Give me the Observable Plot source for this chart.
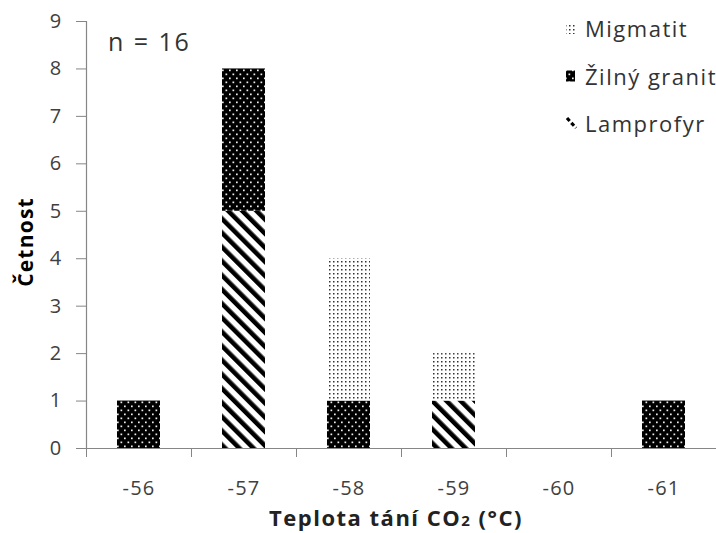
<!DOCTYPE html>
<html><head><meta charset="utf-8">
<script src="https://cdn.jsdelivr.net/npm/d3@7"></script>
<script src="https://cdn.jsdelivr.net/npm/@observablehq/plot@0.6"></script>
<style>
html,body{margin:0;padding:0;background:#fff;}
#chart{position:relative;width:716px;height:533px;overflow:hidden;}
#chart svg text{letter-spacing:1.2px;}
</style></head><body><div id="chart"></div>
<script>
// ---- data ----
const categories = ["-56","-57","-58","-59","-60","-61"];
const seriesNames = ["Lamprofyr","Žilný granit","Migmatit"];
const lamprofyr   = [0,5,0,1,0,0];
const zilnyGranit = [1,3,1,0,0,1];
const migmatit    = [0,0,3,1,0,0];
const yTicks = [0,1,2,3,4,5,6,7,8,9];
const legendOrder = ["Migmatit","Žilný granit","Lamprofyr"];
const annotation = "n = 16";
const yTitle = "Četnost";
const xTitleParts = ["Teplota tání CO", "2", " (°C)"];

const table = [];
[lamprofyr, zilnyGranit, migmatit].forEach((vals, i) =>
  vals.forEach((v, j) => table.push({cat: categories[j], series: seriesNames[i], count: v})));

const W = 716, H = 533;
const mL = 86, mR = 0, mT = 21, mB = 85;
const font = "'Open Sans', sans-serif";
const axisGrey = "#868686";
const textGrey = "#404040";
const patternIds = {"Lamprofyr": "pLamp", "Žilný granit": "pGran", "Migmatit": "pMig"};

const xScaleOpts = {type: "band", domain: categories, range: [mL, W - mR], paddingInner: 0.59, paddingOuter: 0.295};
const step = Plot.scale({x: xScaleOpts}).step;

const plot = Plot.plot({
  width: W, height: H,
  marginLeft: mL, marginRight: mR, marginTop: mT, marginBottom: mB,
  style: {fontFamily: font, fontSize: "20px", color: textGrey, background: "#fff", overflow: "visible"},
  x: {domain: categories, paddingInner: 0.59, paddingOuter: 0.295, label: null, axis: null},
  y: {domain: [0, 9], label: null, axis: null},
  color: {domain: seriesNames, range: seriesNames.map(s => `url(#${patternIds[s]})`)},
  marks: [
    Plot.barY(table, {x: "cat", y: "count", fill: "series", order: seriesNames}),
    Plot.ruleY([0], {stroke: axisGrey, strokeWidth: 1.2}),
    Plot.ruleX([categories[0]], {dx: -step / 2, stroke: axisGrey, strokeWidth: 1.2}),
    Plot.axisY({ticks: yTicks, tickSize: 10, tickPadding: 14, stroke: axisGrey, fill: textGrey, fontSize: 20, label: null, tickFormat: d => String(d)}),
    Plot.axisX({ticks: categories, tickSize: 9, tickFormat: () => "", dx: -step / 2, stroke: axisGrey, label: null}),
    Plot.axisX({ticks: categories, tickSize: 0, tickPadding: 32, fill: textGrey, fontSize: 20, label: null})
  ]
});

document.getElementById("chart").appendChild(plot);

// ---- patterns ----
const svg = d3.select(plot);
const defs = svg.insert("defs", ":first-child");
const pl = defs.append("pattern").attr("id", "pLamp").attr("patternUnits", "userSpaceOnUse")
  .attr("width", 10).attr("height", 10).attr("patternTransform", "rotate(-45)");
pl.append("rect").attr("width", 10).attr("height", 10).attr("fill", "#fff");
pl.append("rect").attr("width", 4.6).attr("height", 10).attr("fill", "#000");

const pg = defs.append("pattern").attr("id", "pGran").attr("patternUnits", "userSpaceOnUse")
  .attr("width", 7).attr("height", 8);
pg.append("rect").attr("width", 7).attr("height", 8).attr("fill", "#000");
pg.append("rect").attr("x", 1.5).attr("y", 1.5).attr("width", 1.7).attr("height", 1.7).attr("fill", "#eee");
pg.append("rect").attr("x", 5).attr("y", 5.5).attr("width", 1.7).attr("height", 1.7).attr("fill", "#eee");

const pm = defs.append("pattern").attr("id", "pMig").attr("patternUnits", "userSpaceOnUse")
  .attr("width", 4).attr("height", 4);
pm.append("rect").attr("width", 4).attr("height", 4).attr("fill", "#fff");
pm.append("rect").attr("x", 1).attr("y", 1).attr("width", 1.5).attr("height", 1.5).attr("fill", "#333");

// ---- texts ----
svg.append("text").attr("x", 108).attr("y", 51).attr("text-anchor", "start")
  .attr("font-size", 25).attr("fill", "#333")
  .style("letter-spacing", "1.5px").style("word-spacing", "1px").text(annotation);

svg.append("text").attr("transform", "translate(33,242) rotate(-90)").attr("text-anchor", "middle")
  .attr("font-size", 21).attr("font-weight", "bold").attr("fill", "#000").text(yTitle);

const xt = svg.append("text").attr("x", 396).attr("y", 525.5).attr("text-anchor", "middle")
  .attr("font-size", 22).attr("font-weight", "bold").attr("fill", "#222").style("letter-spacing", "1.5px");
xt.append("tspan").text(xTitleParts[0]);
xt.append("tspan").attr("font-size", 15).text(xTitleParts[1]);
xt.append("tspan").text(xTitleParts[2]);

// ---- legend ----
const lg = svg.append("g").attr("text-anchor", "start");
legendOrder.forEach((name, i) => {
  const base = 37 + i * 47.5;
  if (name === "Lamprofyr") {
    lg.append("line").attr("x1", 567).attr("y1", base - 14).attr("x2", 576).attr("y2", base - 4)
      .attr("stroke", "#000").attr("stroke-width", 3.2).attr("stroke-dasharray", "4,2.5");
  } else {
    lg.append("rect").attr("x", 566).attr("y", base - 14).attr("width", 9).attr("height", 11)
      .attr("fill", `url(#${patternIds[name]})`);
  }
  lg.append("text").attr("x", 585).attr("y", base).attr("font-size", 22).attr("fill", "#333")
    .style("letter-spacing", "1.5px").text(name);
});
</script></body></html>
